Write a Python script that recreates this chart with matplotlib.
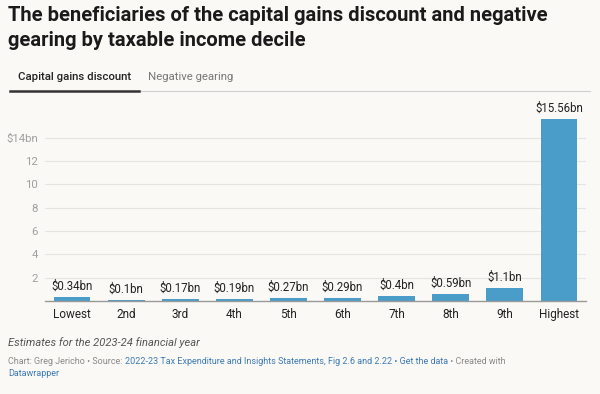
import matplotlib
matplotlib.use("Agg")
import matplotlib.pyplot as plt
from matplotlib.lines import Line2D

deciles = ["Lowest", "2nd", "3rd", "4th", "5th", "6th", "7th", "8th", "9th", "Highest"]
values = [0.34, 0.1, 0.17, 0.19, 0.27, 0.29, 0.4, 0.59, 1.1, 15.56]
value_labels = ["$0.34bn", "$0.1bn", "$0.17bn", "$0.19bn", "$0.27bn", "$0.29bn",
                "$0.4bn", "$0.59bn", "$1.1bn", "$15.56bn"]
yticks = [2, 4, 6, 8, 10, 12, 14]
ytick_labels = ["2", "4", "6", "8", "10", "12", "$14bn"]

bg = "#fbf9f6"
bar_color = "#4b9dc9"
link_blue = "#3d7ab5"
grey = "#8a8a8a"

plt.rcParams["font.family"] = ["Roboto", "DejaVu Sans"]

fig = plt.figure(figsize=(6, 3.94), dpi=100, facecolor=bg)
W, H = 600, 394

def fx(px):
    return px / W

def fy(py):
    return 1 - py / H

# title
fig.text(fx(8), fy(6), "The beneficiaries of the capital gains discount and negative\ngearing by taxable income decile",
         fontsize=14.5, fontweight="bold", color="#1a1a1a", va="top", ha="left", linespacing=1.38)

# tabs
fig.text(fx(18), fy(77), "Capital gains discount", fontsize=8.2, fontweight="medium",
         color="#222222", va="center", ha="left")
fig.text(fx(148), fy(77), "Negative gearing", fontsize=8.2, color="#777777",
         va="center", ha="left")
fig.add_artist(Line2D([fx(139), fx(590)], [fy(91), fy(91)], color="#d0d0d0", lw=0.8))
fig.add_artist(Line2D([fx(10), fx(139)], [fy(91), fy(91)], color="#333333", lw=1.8))

# chart
ax = fig.add_axes([fx(45), fy(301), fx(586) - fx(45), (301 - 114.3) / H])
ax.set_facecolor(bg)
x = range(len(deciles))
bars = ax.bar(x, values, width=0.68, color=bar_color, zorder=3)
ax.set_xlim(-0.5, len(deciles) - 0.5)
ax.set_ylim(0, 16)
ax.set_yticks(yticks)
ax.set_yticklabels(ytick_labels)
ax.set_xticks(list(x))
ax.set_xticklabels(deciles)
ax.grid(axis="y", color="#e6e4e0", lw=0.8, zorder=0)
for s in ["top", "right", "left"]:
    ax.spines[s].set_visible(False)
ax.spines["bottom"].set_color("#999999")
ax.spines["bottom"].set_linewidth(1.0)
ax.spines["bottom"].set_zorder(4)
ax.tick_params(axis="y", length=0, labelsize=8.2, labelcolor="#a0a0a0", pad=5)
ax.tick_params(axis="x", length=0, labelsize=8.5, labelcolor="#222222", pad=5)

for i, (v, lab) in enumerate(zip(values, value_labels)):
    ax.annotate(lab, (i, v), xytext=(0, 3), textcoords="offset points",
                ha="center", va="bottom", fontsize=8.3, color="#222222")

# footer
fig.text(fx(8), fy(343), "Estimates for the 2023-24 financial year", fontsize=8,
         style="italic", color="#555555", va="center", ha="left")

fig.canvas.draw()
renderer = fig.canvas.get_renderer()

def chain(parts, px, py):
    cur = fx(px)
    for txt, col in parts:
        t = fig.text(cur, fy(py), txt, fontsize=6.5, color=col, va="center", ha="left")
        bb = t.get_window_extent(renderer=renderer)
        cur = bb.x1 / (fig.dpi * fig.get_figwidth())

chain([("Chart: Greg Jericho \u2022 Source: ", grey),
       ("2022-23 Tax Expenditure and Insights Statements, Fig 2.6 and 2.22 \u2022 Get the data", link_blue),
       (" \u2022 Created with", grey)], 8, 361)
chain([("Datawrapper", link_blue)], 8, 373)

fig.savefig("out.png", dpi=100, facecolor=bg)
